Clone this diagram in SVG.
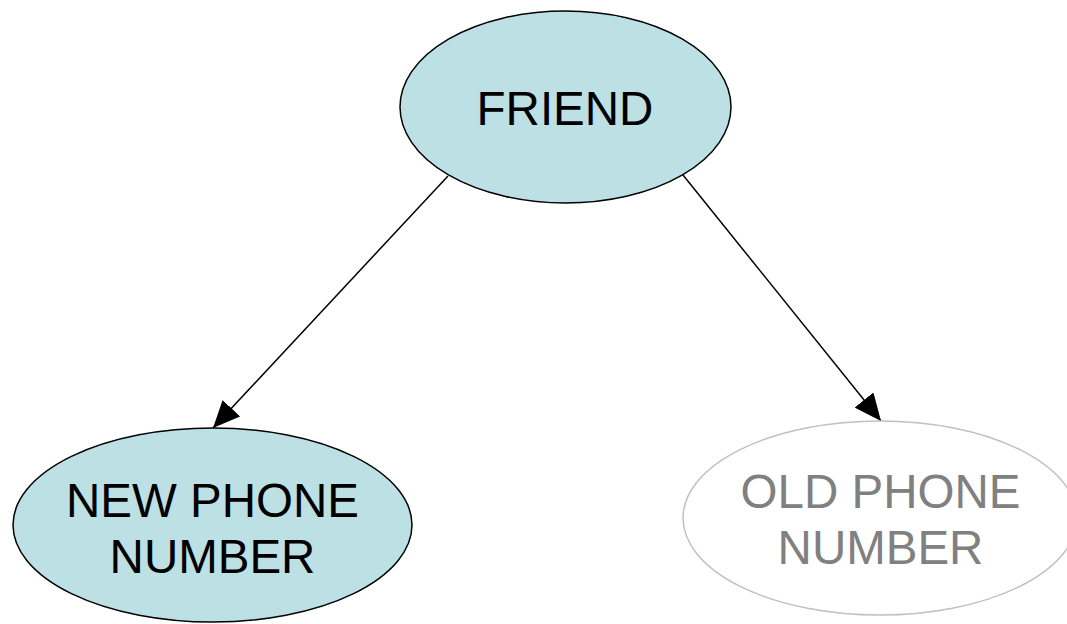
<svg xmlns="http://www.w3.org/2000/svg" width="1067" height="624" viewBox="0 0 1067 624">
<style>
.fill{fill:#bde0e4;stroke:#000;stroke-width:1.5}
.old{fill:#fff;stroke:#c0c0c0;stroke-width:1.5}
.t{font-family:"Liberation Sans",Arial,sans-serif;font-size:47.5px;text-anchor:middle;fill:#000}
.tg{fill:#808080}
.c{stroke:#000;stroke-width:1.5;fill:none;marker-end:url(#ah)}
</style>
<defs>
<marker id="ah" markerUnits="userSpaceOnUse" markerWidth="28" markerHeight="24" refX="27" refY="12" orient="auto">
<path d="M0,0 L27,12 L0,24 z" fill="#000"/>
</marker>
</defs>
<rect width="1067" height="624" fill="#fff"/>
<g id="connectors">
<line class="c" x1="448" y1="176" x2="213" y2="428"/>
<line class="c" x1="683" y1="175" x2="881" y2="421"/>
</g>
<g id="friend">
<ellipse class="fill" cx="565.5" cy="107" rx="165.5" ry="96"/>
<text class="t" x="565" y="125">FRIEND</text>
</g>
<g id="new-phone">
<ellipse class="fill" cx="212.5" cy="525" rx="199.5" ry="97"/>
<text class="t" x="212.5" y="517">NEW PHONE</text>
<text class="t" x="212.5" y="573">NUMBER</text>
</g>
<g id="old-phone">
<ellipse class="old" cx="880" cy="518" rx="197" ry="97"/>
<text class="t tg" x="880.5" y="508">OLD PHONE</text>
<text class="t tg" x="880.5" y="564">NUMBER</text>
</g>
</svg>
